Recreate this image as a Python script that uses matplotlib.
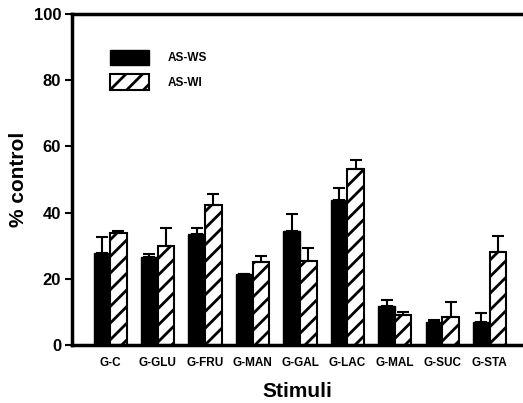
import numpy as np
import matplotlib
matplotlib.use("Agg")
import matplotlib.pyplot as plt

# values (% of control)
stimuli = ["G-C", "G-GLU", "G-FRU", "G-MAN", "G-GAL", "G-LAC", "G-MAL", "G-SUC", "G-STA"]
ws_mean = [27.8, 26.5, 33.5, 21.5, 34.5, 43.8, 11.8, 6.8, 7.0]
ws_err = [4.8, 1.0, 1.8, 0.0, 5.0, 3.7, 1.8, 0.8, 2.6]
wi_mean = [33.8, 29.8, 42.2, 25.2, 25.5, 53.2, 9.0, 8.6, 28.0]
wi_err = [0.7, 5.7, 3.5, 1.8, 3.7, 2.8, 0.9, 4.5, 5.0]

plt.rcParams['font.family'] = ['Liberation Sans', 'DejaVu Sans']
plt.rcParams['font.weight'] = 'bold'
plt.rcParams['hatch.linewidth'] = 2.0

fig = plt.figure(figsize=(5.23, 4.03), dpi=100)
ax = fig.add_axes([0.138, 0.144, 0.862, 0.821])

x = np.arange(len(stimuli))
w = 0.35

ax.bar(x - w / 2, ws_mean, w, color="black", edgecolor="black", label="AS-WS")
ax.bar(x + w / 2, wi_mean, w, color="white", edgecolor="black", linewidth=1.5,
       hatch="//", label="AS-WI")

# only the upper half of each error bar is drawn
ax.errorbar(x - w / 2, ws_mean, yerr=[np.zeros(len(x)), ws_err], fmt="none",
            ecolor="black", elinewidth=1.5, capsize=4, capthick=1.5)
ax.errorbar(x + w / 2, wi_mean, yerr=[np.zeros(len(x)), wi_err], fmt="none",
            ecolor="black", elinewidth=1.5, capsize=4, capthick=1.5)

ax.set_xlim(-0.8, 8.7)
ax.set_ylim(0, 100)
ax.set_yticks([0, 20, 40, 60, 80, 100])
ax.set_xticks(x)
ax.set_xticklabels(stimuli, fontsize=8.5, fontweight="bold")
ax.tick_params(axis="x", length=0, pad=9)
ax.tick_params(axis="y", direction="out", length=5, width=1.5, labelsize=12, pad=3)
for lab in ax.get_yticklabels():
    lab.set_fontweight("bold")

for side in ["left", "top", "bottom"]:
    ax.spines[side].set_linewidth(2.5)
ax.spines["right"].set_visible(False)

ax.set_ylabel("% control", fontsize=15, fontweight="bold", labelpad=4)
ax.set_xlabel("Stimuli", fontsize=15, fontweight="bold", labelpad=9)

ax.legend(loc="upper left", bbox_to_anchor=(0.06, 0.925), frameon=False,
          handlelength=3.3, handleheight=1.7, handletextpad=1.6,
          labelspacing=0.75, prop={"weight": "bold", "size": 8.5})

fig.savefig("out.png", dpi=100)
